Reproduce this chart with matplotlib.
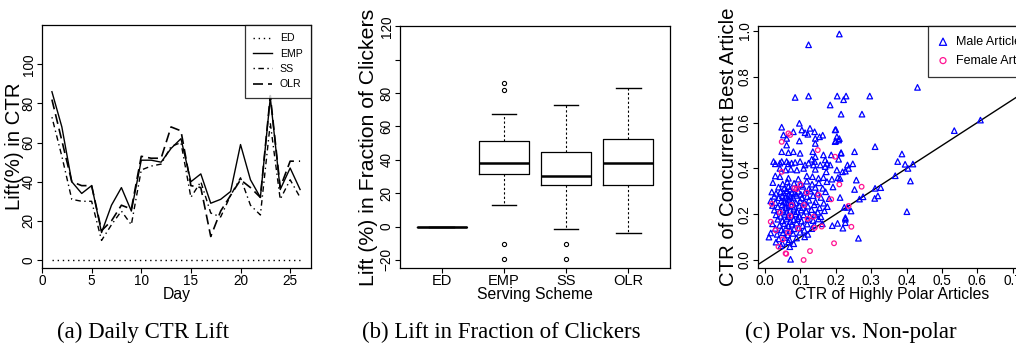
import matplotlib
matplotlib.use('Agg')
import matplotlib.pyplot as plt
from matplotlib import font_manager

# --- data: (a) daily CTR lift ---
days = list(range(1, 27))
lift_ed = [0] * 26
lift_emp = [86, 68, 40, 34, 38, 14, 28, 37, 25, 51, 51, 50, 57, 62, 40, 44, 29, 31, 35, 59, 41, 32, 83, 36, 47, 36]
lift_ss = [73, 53, 31, 30, 30, 10, 18, 25, 18, 46, 48, 49, 58, 60, 32, 40, 24, 22, 33, 42, 28, 23, 70, 31, 41, 32]
lift_olr = [82, 61, 40, 38, 38, 15, 20, 28, 26, 53, 52, 52, 68, 66, 38, 37, 12, 25, 33, 41, 37, 32, 84, 37, 50.5, 50.5]

# --- data: (b) lift in fraction of clickers ---
schemes = ['ED', 'EMP', 'SS', 'OLR']
whisker_lo = [0, 13, -1.5, -3.6]
q1 = [0, 31.6, 25, 25]
medians = [0, 38, 30.6, 38.4]
q3 = [0, 51, 45, 52.4]
whisker_hi = [0, 67.6, 73, 83]
outliers = [[], [86, 81.6, -10.6, -19.4], [-10.6, -19.4], []]

# --- data: (c) polar vs non-polar ---
male_pts = [
    (0.085, 0.71), (0.123, 0.716), (0.123, 0.94), (0.21, 0.987), (0.204, 0.716), (0.229, 0.716), (0.222, 0.70),
    (0.296, 0.716), (0.431, 0.754), (0.184, 0.677), (0.215, 0.637), (0.274, 0.637), (0.311, 0.495), (0.387, 0.463),
    (0.375, 0.43), (0.396, 0.418), (0.418, 0.419), (0.404, 0.40), (0.368, 0.368), (0.411, 0.345), (0.401, 0.211),
    (0.535, 0.565), (0.609, 0.611), (0.264, 0.095), (0.072, 0.003),
    (0.253, 0.473), (0.215, 0.469), (0.233, 0.415), (0.236, 0.40), (0.248, 0.42), (0.227, 0.388), (0.212, 0.356),
    (0.258, 0.349), (0.253, 0.308), (0.311, 0.313), (0.327, 0.316), (0.31, 0.269), (0.319, 0.28), (0.277, 0.276),
    (0.267, 0.266), (0.212, 0.273), (0.233, 0.23), (0.224, 0.23), (0.243, 0.214), (0.227, 0.185), (0.227, 0.178),
    (0.227, 0.163), (0.22, 0.139), (0.20, 0.57), (0.21, 0.53), (0.20, 0.52), (0.205, 0.16), (0.19, 0.15),
    (0.097, 0.597), (0.047, 0.58), (0.08, 0.56), (0.104, 0.568), (0.113, 0.556), (0.121, 0.549), (0.127, 0.575),
    (0.14, 0.56), (0.154, 0.538), (0.163, 0.545), (0.142, 0.531), (0.052, 0.546), (0.061, 0.531), (0.198, 0.568),
    (0.203, 0.538), (0.208, 0.524), (0.198, 0.517), (0.097, 0.52), (0.142, 0.509), (0.061, 0.502), (0.047, 0.473),
    (0.066, 0.469), (0.08, 0.473), (0.099, 0.466), (0.135, 0.473), (0.142, 0.451), (0.132, 0.44), (0.14, 0.43),
    (0.165, 0.459), (0.17, 0.437), (0.175, 0.422), (0.187, 0.459), (0.215, 0.466), (0.208, 0.44),
    (0.024, 0.43), (0.029, 0.42), (0.042, 0.423), (0.047, 0.43), (0.061, 0.43), (0.066, 0.42), (0.075, 0.423),
    (0.085, 0.426), (0.099, 0.43), (0.113, 0.415), (0.123, 0.423), (0.137, 0.415), (0.156, 0.415), (0.17, 0.408),
    (0.184, 0.415), (0.042, 0.40), (0.058, 0.393), (0.073, 0.396), (0.09, 0.393), (0.109, 0.40), (0.142, 0.396),
    (0.173, 0.385), (0.203, 0.393), (0.219, 0.385), (0.029, 0.367), (0.042, 0.364), (0.066, 0.357), (0.094, 0.353),
    (0.118, 0.367), (0.134, 0.364), (0.151, 0.357), (0.165, 0.36), (0.189, 0.353), (0.206, 0.36),
    (0.022, 0.338), (0.05, 0.332), (0.063, 0.341), (0.082, 0.335), (0.101, 0.329), (0.118, 0.344), (0.133, 0.331),
    (0.152, 0.337), (0.175, 0.342),
    (0.038, 0.318), (0.054, 0.312), (0.066, 0.321), (0.071, 0.309), (0.088, 0.316), (0.107, 0.322), (0.124, 0.311),
    (0.142, 0.317), (0.163, 0.313), (0.192, 0.319),
    (0.019, 0.297), (0.031, 0.291), (0.044, 0.299), (0.053, 0.293), (0.061, 0.302), (0.068, 0.288), (0.076, 0.296),
    (0.084, 0.291), (0.094, 0.30), (0.101, 0.287), (0.113, 0.295), (0.128, 0.301), (0.148, 0.292), (0.171, 0.298),
    (0.026, 0.278), (0.039, 0.272), (0.049, 0.281), (0.057, 0.274), (0.064, 0.269), (0.071, 0.279), (0.079, 0.273),
    (0.089, 0.282), (0.104, 0.271), (0.119, 0.277), (0.136, 0.281), (0.158, 0.273), (0.181, 0.268),
    (0.016, 0.258), (0.029, 0.251), (0.046, 0.259), (0.054, 0.253), (0.061, 0.249), (0.069, 0.262), (0.077, 0.255),
    (0.087, 0.249), (0.099, 0.258), (0.111, 0.252), (0.124, 0.261), (0.143, 0.254), (0.166, 0.248),
    (0.021, 0.238), (0.036, 0.232), (0.048, 0.241), (0.059, 0.229), (0.067, 0.236), (0.074, 0.242), (0.084, 0.231),
    (0.096, 0.238), (0.107, 0.229), (0.121, 0.235), (0.139, 0.241), (0.154, 0.228), (0.176, 0.233),
    (0.026, 0.218), (0.041, 0.212), (0.051, 0.221), (0.062, 0.209), (0.071, 0.216), (0.081, 0.222), (0.091, 0.211),
    (0.102, 0.218), (0.116, 0.213), (0.131, 0.22), (0.149, 0.209), (0.168, 0.215),
    (0.031, 0.197), (0.044, 0.191), (0.056, 0.199), (0.066, 0.188), (0.076, 0.196), (0.086, 0.201), (0.097, 0.19),
    (0.109, 0.197), (0.126, 0.192), (0.141, 0.199), (0.158, 0.189),
    (0.036, 0.178), (0.049, 0.171), (0.061, 0.179), (0.071, 0.168), (0.081, 0.176), (0.092, 0.181), (0.103, 0.17),
    (0.121, 0.177), (0.136, 0.172), (0.151, 0.179),
    (0.021, 0.158), (0.041, 0.151), (0.054, 0.159), (0.066, 0.149), (0.076, 0.156), (0.089, 0.161), (0.106, 0.15),
    (0.119, 0.157), (0.139, 0.152), (0.162, 0.158),
    (0.029, 0.138), (0.046, 0.131), (0.059, 0.139), (0.071, 0.129), (0.082, 0.136), (0.096, 0.141), (0.111, 0.13),
    (0.132, 0.137),
    (0.016, 0.118), (0.034, 0.112), (0.051, 0.119), (0.064, 0.109), (0.079, 0.116), (0.099, 0.121), (0.121, 0.112),
    (0.011, 0.10), (0.039, 0.092), (0.056, 0.098), (0.069, 0.089), (0.089, 0.096), (0.112, 0.101),
    (0.031, 0.078), (0.049, 0.072), (0.066, 0.079), (0.081, 0.071), (0.045, 0.062), (0.07, 0.058),
]
female_pts = [
    (0.083, 0.313), (0.118, 0.294), (0.151, 0.284), (0.187, 0.265), (0.019, 0.245), (0.042, 0.207), (0.016, 0.167),
    (0.071, 0.192), (0.094, 0.138), (0.137, 0.189), (0.16, 0.146), (0.038, 0.058), (0.058, 0.029), (0.127, 0.039),
    (0.109, 0.0), (0.195, 0.073), (0.244, 0.145), (0.236, 0.236), (0.273, 0.32), (0.21, 0.33), (0.198, 0.451),
    (0.149, 0.48), (0.066, 0.553), (0.071, 0.546), (0.047, 0.516), (0.047, 0.385), (0.06, 0.027), (0.09, 0.31),
    (0.03, 0.13), (0.065, 0.12), (0.11, 0.24), (0.12, 0.18), (0.075, 0.24), (0.05, 0.09), (0.14, 0.14), (0.10, 0.33),
]
male_x = [p[0] for p in male_pts]
male_y = [p[1] for p in male_pts]
female_x = [p[0] for p in female_pts]
female_y = [p[1] for p in female_pts]

# --- fonts ---
names = {f.name for f in font_manager.fontManager.ttflist}
if 'Liberation Sans Narrow' in names:
    SANS, K = 'Liberation Sans Narrow', 1.0
else:
    SANS, K = 'Liberation Sans', 0.85
plt.rcParams['font.family'] = [SANS, 'DejaVu Sans']
plt.rcParams['axes.linewidth'] = 0.9
plt.rcParams['xtick.direction'] = 'out'
plt.rcParams['ytick.direction'] = 'out'

W, H = 1016, 343
fig = plt.figure(figsize=(W / 100, H / 100), dpi=100)

def box(l, t, r, b):
    return [l / W, (H - b) / H, (r - l) / W, (b - t) / H]

TICK = 9.8
YLAB = 18 * K
XLAB = 13.3 * K

def style(ax):
    ax.tick_params(length=3.6, width=0.8, pad=1, labelsize=TICK)
    for lab in ax.get_yticklabels():
        lab.set_rotation(90)
        lab.set_va('center')

# --- (a) ---
ax1 = fig.add_axes(box(42, 25, 311, 268))
ax1.plot(days, lift_ed, color='black', lw=1.0, dashes=(1, 2.7), label='ED')
ax1.plot(days, lift_emp, color='black', lw=1.0, label='EMP')
ax1.plot(days, lift_ss, color='black', lw=1.0, dashes=(1, 2.5, 4, 2.5), label='SS')
ax1.plot(days, lift_olr, color='black', lw=1.2, dashes=(6, 3), label='OLR')
ax1.set_xlim(0, 27.1)
ax1.set_ylim(-4.1, 120.1)
ax1.set_xticks([0, 5, 10, 15, 20, 25])
ax1.set_yticks([0, 20, 40, 60, 80, 100])
style(ax1)
ax1.set_xlabel('Day', fontsize=XLAB, va='center')
ax1.xaxis.set_label_coords(0.5, -27 / 243)
ax1.set_ylabel('Lift(%) in CTR', fontsize=YLAB * 0.96, va='center')
ax1.yaxis.set_label_coords(-28 / 269, 0.5)
leg = ax1.legend(loc='upper right', bbox_to_anchor=(1, 1), borderaxespad=0, fancybox=False,
                 edgecolor='black', fontsize=7.6, handlelength=1.8, handletextpad=0.7,
                 labelspacing=0.5, borderpad=0.8)
leg.get_frame().set_linewidth(0.9)

# --- (b) ---
ax2 = fig.add_axes(box(400, 26, 670, 268))
stats = []
for i in range(len(schemes)):
    stats.append(dict(med=medians[i], q1=q1[i], q3=q3[i], whislo=whisker_lo[i],
                      whishi=whisker_hi[i], fliers=outliers[i], label=schemes[i]))
ax2.bxp(stats, positions=[1, 2, 3, 4], widths=0.8, capwidths=0.4,
        boxprops=dict(color='black', lw=0.9),
        medianprops=dict(color='black', lw=1.8),
        whiskerprops=dict(color='black', lw=0.8, linestyle=(0, (2, 2))),
        capprops=dict(color='black', lw=1.0),
        flierprops=dict(marker='o', markersize=3, markerfacecolor='none',
                        markeredgecolor='black', markeredgewidth=0.8))
ax2.set_xlim(0.326, 4.674)
ax2.set_ylim(-24.8, 120.2)
ax2.set_yticks([-20, 0, 20, 40, 60, 80, 100, 120])
ax2.set_yticklabels(['\u221220', '0', '20', '40', '60', '80', '', '120'])
style(ax2)
ax2.tick_params(axis='x', labelsize=10.5)
ax2.set_xlabel('Serving Scheme', fontsize=XLAB, va='center')
ax2.xaxis.set_label_coords(0.5, -27 / 242)
ax2.set_ylabel('Lift (%) in Fraction of Clickers', fontsize=YLAB, va='center')
ax2.yaxis.set_label_coords(-31 / 270, 0.5)

# --- (c) ---
ax3 = fig.add_axes(box(758, 26, 1048, 268))
ax3.scatter(male_x, male_y, marker='^', s=16, facecolors='none', edgecolors='#0000ff',
            linewidths=0.9, label='Male Articles', zorder=3)
ax3.scatter(female_x, female_y, marker='o', s=11, facecolors='none', edgecolors='#ff1493',
            linewidths=0.9, label='Female Articles', zorder=3)
ax3.axline((0, 0), slope=1, color='black', lw=1.0)
ax3.set_xlim(-0.02, 0.8)
ax3.set_ylim(-0.035, 1.022)
ax3.set_xticks([0.0, 0.1, 0.2, 0.3, 0.4, 0.5, 0.6, 0.7])
ax3.set_yticks([0.0, 0.2, 0.4, 0.6, 0.8, 1.0])
ax3.set_xticklabels(['0.0', '0.1', '0.2', '0.3', '0.4', '0.5', '0.6', '0.7'])
ax3.set_yticklabels(['0.0', '0.2', '0.4', '0.6', '0.8', '1.0'])
style(ax3)
ax3.set_xlabel('CTR of Highly Polar Articles', fontsize=XLAB, va='center')
ax3.xaxis.set_label_coords(134 / 290, -27 / 242)
ax3.set_ylabel('CTR of Concurrent Best Article', fontsize=YLAB * 0.96, va='center')
ax3.yaxis.set_label_coords(-30 / 290, 0.5)
leg3 = ax3.legend(loc='upper left', bbox_to_anchor=((928 - 758) / 290, 1), borderaxespad=0,
                  fancybox=False, edgecolor='black', fontsize=9, handlelength=0.8,
                  handletextpad=0.6, labelspacing=0.55, borderpad=0.8, markerscale=1.3)
leg3.get_frame().set_linewidth(0.9)

# --- captions ---
for x, txt in [(57, '(a) Daily CTR Lift'), (362, '(b) Lift in Fraction of Clickers'),
               (745, '(c) Polar vs. Non-polar')]:
    fig.text(x / W, (H - 338) / H, txt, family=['Liberation Serif', 'DejaVu Serif'],
             fontsize=16.5, ha='left', va='baseline')

fig.savefig('out.png', dpi=100)
